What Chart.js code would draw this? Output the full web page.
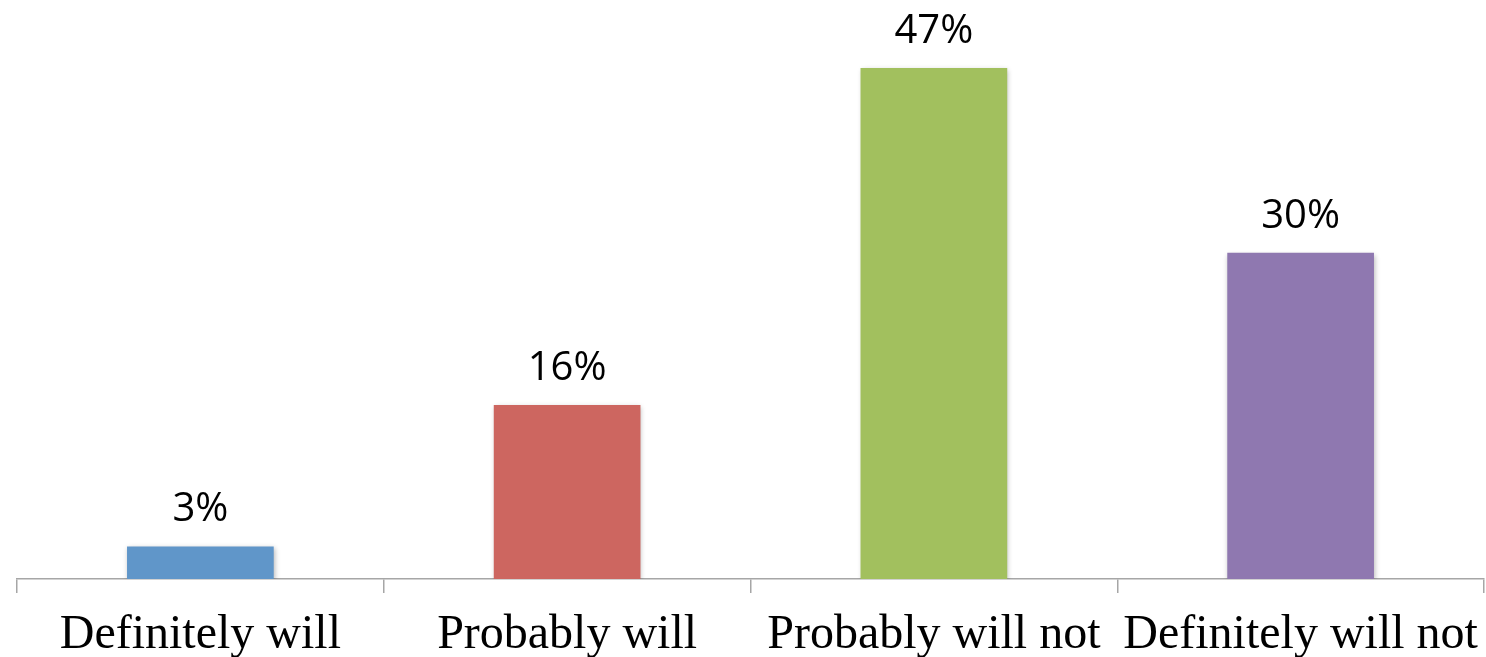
<!DOCTYPE html>
<html>
<head>
<meta charset="utf-8">
<script src="https://cdn.jsdelivr.net/npm/chart.js@4.4.1/dist/chart.umd.min.js"></script>
<style>
html,body{margin:0;padding:0;background:#fff;}
#wrap{width:1486px;height:657px;position:relative;}
</style>
</head>
<body>
<div id="wrap"><canvas id="c" width="1486" height="657"></canvas></div>
<script>
const categories = ["Definitely will", "Probably will", "Probably will not", "Definitely will not"];
const values = [3, 16, 47, 30];
const valueLabels = ["3%", "16%", "47%", "30%"];
const barColors = ["#6096c9", "#cd6660", "#a2c05e", "#8f78b0"];

const shadowPlugin = {
  id: 'barShadow',
  beforeDatasetsDraw(chart) {
    const ctx = chart.ctx;
    ctx.save();
    ctx.shadowColor = 'rgba(0,0,0,0.28)';
    ctx.shadowBlur = 5;
    ctx.shadowOffsetX = 1;
    ctx.shadowOffsetY = 2;
  },
  afterDatasetsDraw(chart) {
    chart.ctx.restore();
    const ctx = chart.ctx;
    const meta = chart.getDatasetMeta(0);
    ctx.save();
    ctx.font = '40px "Open Sans"';
    ctx.fillStyle = '#000';
    ctx.textAlign = 'center';
    ctx.textBaseline = 'alphabetic';
    meta.data.forEach((bar, i) => {
      ctx.fillText(valueLabels[i], bar.x, bar.y - 25);
    });
    ctx.restore();
  }
};

new Chart(document.getElementById('c'), {
  type: 'bar',
  data: {
    labels: categories,
    datasets: [{
      data: values,
      backgroundColor: barColors,
      borderWidth: 0,
      barPercentage: 0.4,
      categoryPercentage: 1.0
    }]
  },
  options: {
    responsive: false,
    animation: false,
    devicePixelRatio: 1,
    layout: { padding: { left: 17, right: 2, top: 35.4, bottom: 0 } },
    plugins: { legend: { display: false }, tooltip: { enabled: false } },
    scales: {
      x: {
        offset: true,
        grid: {
          display: true,
          offset: true,
          drawOnChartArea: false,
          drawTicks: true,
          tickLength: 14,
          color: '#a6a6a6',
          lineWidth: 1.5
        },
        border: { display: true, color: '#a6a6a6', width: 1.5 },
        ticks: {
          font: { family: '"Liberation Serif"', size: 48 },
          color: '#000',
          padding: 14,
          maxRotation: 0,
          autoSkip: false
        },
        afterFit(scale) {
          scale.height = 78;
          scale.paddingLeft = 0;
          scale.paddingRight = 0;
        }
      },
      y: {
        display: false,
        min: 0,
        max: 50
      }
    }
  },
  plugins: [shadowPlugin]
});
</script>
</body>
</html>
